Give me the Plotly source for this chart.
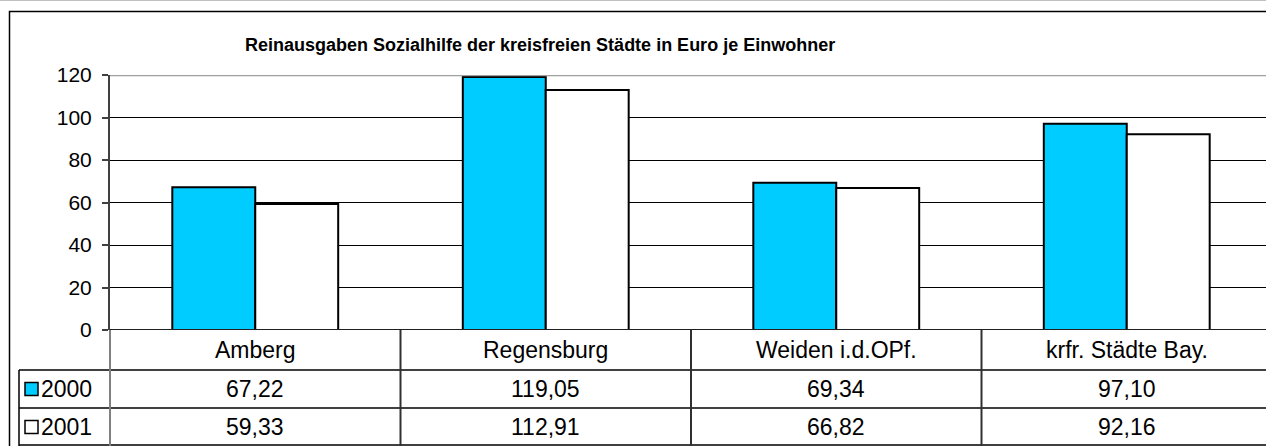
import plotly.graph_objects as go

categories = ["Amberg", "Regensburg", "Weiden i.d.OPf.", "krfr. Städte Bay."]
series_names = ["2000", "2001"]
values_2000 = [67.22, 119.05, 69.34, 97.10]
values_2001 = [59.33, 112.91, 66.82, 92.16]
y_ticks = [0, 20, 40, 60, 80, 100, 120]
title_text = "Reinausgaben Sozialhilfe der kreisfreien Städte in Euro je Einwohner"

W, H = 1266, 446
ML, MR, MT, MB = 110, 0, 75, 116
PW, PH = W - ML - MR, H - MT - MB
FONT = "Liberation Sans, Arial, sans-serif"
CYAN = "#00CCFF"
TABLE_FS = 23


def px_x(px):
    return (px - ML) / PW


def px_y(py):
    return (H - MB - py) / PH


def fmt(v):
    return f"{v:.2f}".replace(".", ",")


fig = go.Figure()
fig.add_trace(go.Bar(x=list(range(len(categories))), y=values_2000, name=series_names[0],
                     marker=dict(color=CYAN, line=dict(color="#000000", width=2))))
fig.add_trace(go.Bar(x=list(range(len(categories))), y=values_2001, name=series_names[1],
                     marker=dict(color="#FFFFFF", line=dict(color="#000000", width=2))))

n = len(categories)
x_right = -0.5 + PW / 290.5

shapes = []
ann = []

# top light line and outer frame
shapes.append(dict(type="line", xref="paper", yref="paper", x0=px_x(0), x1=px_x(W + 20),
                   y0=px_y(0.5), y1=px_y(0.5), line=dict(color="#c0c0c0", width=1)))
shapes.append(dict(type="rect", xref="paper", yref="paper", x0=px_x(9.5), x1=px_x(W + 50),
                   y0=px_y(11.5), y1=px_y(H + 50), line=dict(color="#000000", width=1.5)))
# top gray border of plot area at 120
shapes.append(dict(type="line", xref="paper", yref="y", x0=0, x1=1.01, y0=120, y1=120,
                   line=dict(color="#a0a0a0", width=2.5), layer="above"))

# table lines
for py in [370, 408, 445]:
    shapes.append(dict(type="line", xref="paper", yref="paper", x0=px_x(19), x1=px_x(W + 20),
                       y0=px_y(py), y1=px_y(py), line=dict(color="#000000", width=1.5)))
shapes.append(dict(type="line", xref="paper", yref="paper", x0=px_x(19), x1=px_x(19),
                   y0=px_y(370), y1=px_y(446), line=dict(color="#000000", width=1.5)))
shapes.append(dict(type="line", xref="paper", yref="paper", x0=0, x1=0,
                   y0=px_y(330), y1=px_y(446), line=dict(color="#808080", width=2)))
for i in range(n - 1):
    shapes.append(dict(type="line", xref="x", yref="paper", x0=i + 0.5, x1=i + 0.5,
                       y0=px_y(330), y1=px_y(446), line=dict(color="#303030", width=2)))

# legend keys
key_colors = [CYAN, "#FFFFFF"]
for k, py in enumerate([389, 427]):
    shapes.append(dict(type="rect", xref="paper", yref="paper", x0=px_x(25), x1=px_x(38),
                       y0=px_y(py - 6.5), y1=px_y(py + 6.5), fillcolor=key_colors[k],
                       line=dict(color="#000000", width=1.5)))
    ann.append(dict(text=series_names[k], xref="paper", yref="paper", x=px_x(39), y=px_y(py),
                    xanchor="left", yanchor="middle", showarrow=False,
                    font=dict(family=FONT, size=TABLE_FS, color="#000000")))

# table text
for i, c in enumerate(categories):
    ann.append(dict(text=c, xref="x", yref="paper", x=i, y=px_y(350), xanchor="center",
                    yanchor="middle", showarrow=False,
                    font=dict(family=FONT, size=TABLE_FS, color="#000000")))
    ann.append(dict(text=fmt(values_2000[i]), xref="x", yref="paper", x=i, y=px_y(389),
                    xanchor="center", yanchor="middle", showarrow=False,
                    font=dict(family=FONT, size=TABLE_FS, color="#000000")))
    ann.append(dict(text=fmt(values_2001[i]), xref="x", yref="paper", x=i, y=px_y(427),
                    xanchor="center", yanchor="middle", showarrow=False,
                    font=dict(family=FONT, size=TABLE_FS, color="#000000")))

# title
ann.append(dict(text="<b>" + title_text + "</b>", xref="paper", yref="paper", x=px_x(540),
                y=px_y(45), xanchor="center", yanchor="middle", showarrow=False,
                font=dict(family=FONT, size=18, color="#000000")))

fig.update_layout(
    width=W, height=H,
    margin=dict(l=ML, r=MR, t=MT, b=MB, pad=0),
    paper_bgcolor="#FFFFFF", plot_bgcolor="#FFFFFF",
    showlegend=False,
    barmode="group", bargap=0.429, bargroupgap=0,
    shapes=shapes, annotations=ann,
    xaxis=dict(range=[-0.5, x_right], showticklabels=False, ticks="", showgrid=False,
               zeroline=False, showline=False),
    yaxis=dict(range=[0, 120], tickvals=y_ticks, ticktext=[str(t) for t in y_ticks],
               showgrid=True, gridcolor="#000000", gridwidth=1, zeroline=False,
               showline=True, linecolor="#404040", linewidth=2, ticks="outside", ticklen=6,
               tickcolor="#404040", tickwidth=1.5, ticklabelstandoff=6,
               tickfont=dict(family=FONT, size=21, color="#000000")),
)
fig.add_shape(type="line", xref="paper", yref="y", x0=0, x1=1.01, y0=0, y1=0,
              line=dict(color="#202020", width=2), layer="above")

fig.write_html(
    "out.html",
    config={"displayModeBar": False},
    post_script="document.body.style.margin='0';document.body.style.overflow='hidden';"
                "document.documentElement.style.overflow='hidden';",
)
